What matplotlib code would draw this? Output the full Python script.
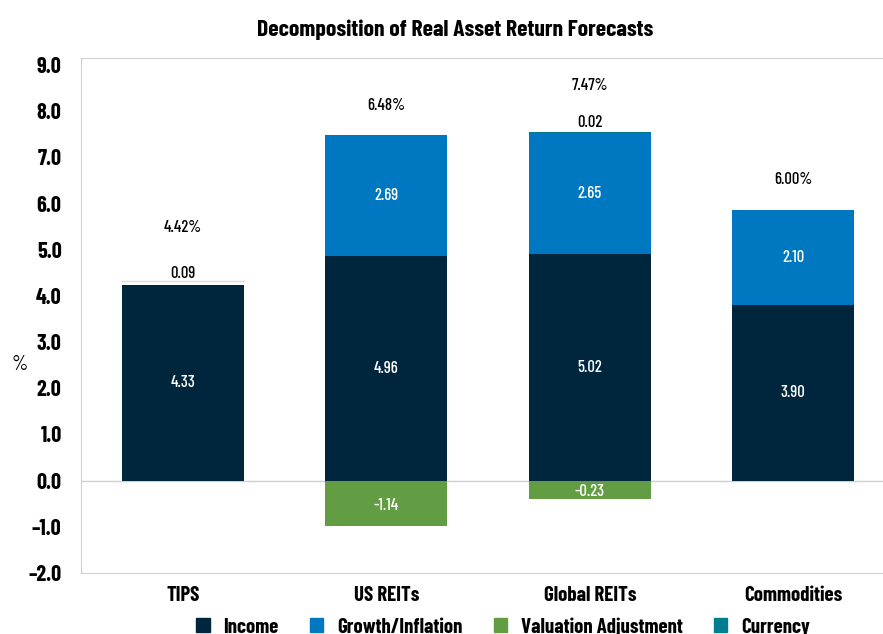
import numpy as np
import matplotlib
matplotlib.use("Agg")
import matplotlib.pyplot as plt
from matplotlib.patches import Patch

plt.rcParams['font.family'] = ['Barlow Condensed', 'Roboto Condensed', 'DejaVu Sans']

# Donnees
categories = ["TIPS", "US REITs", "Global REITs", "Commodities"]
# hauteurs des barres telles que dessinees
income = [4.24, 4.86, 4.90, 3.81]
growth = [0.08, 2.62, 2.63, 2.06]
valuation = [0.0, -0.99, -0.39, 0.0]
currency = [0.0, 0.0, 0.02, 0.0]
# textes affiches
income_lbl = ["4.33", "4.96", "5.02", "3.90"]
growth_lbl = ["0.09", "2.69", "2.65", "2.10"]
valuation_lbl = ["", "-1.14", "-0.23", ""]
currency_lbl = ["", "", "0.02", ""]
total_lbl = ["4.42%", "6.48%", "7.47%", "6.00%"]

c_income = "#00263e"
c_growth = "#0078c1"
c_valuation = "#629c43"
c_currency = "#007d91"

fig = plt.figure(figsize=(8.83, 6.34), dpi=100)
ax = fig.add_axes([0.0917, 0.0962, 0.922, 0.8123])

x = np.arange(len(categories))
w = 0.6
inc = np.array(income)
gro = np.array(growth)
val = np.array(valuation)
cur = np.array(currency)

ax.bar(x, inc, w, color=c_income, zorder=2)
# TIPS : petit segment presque invisible (trait gris clair)
gcol = ["white" if g < 0.1 else c_growth for g in gro]
ax.bar(x, gro, w, bottom=inc, color=gcol, zorder=2)
for i in range(len(x)):
    if gro[i] < 0.1:
        ax.plot([x[i] - w / 2, x[i] + w / 2], [inc[i] + gro[i], inc[i] + gro[i]],
                color="#dcdcdc", lw=1, zorder=3)
ax.bar(x, val, w, color=c_valuation, zorder=2)
ax.bar(x, cur, w, bottom=inc + gro, color=c_currency, zorder=2)

ax.axhline(0, color="#d0d0d0", lw=1, zorder=1)

# etiquettes
fs = 12
for i in range(len(x)):
    ax.text(x[i], inc[i] / 2, income_lbl[i], ha="center", va="center",
            color="white", fontsize=fs, fontweight="medium")
    top = inc[i] + gro[i] + cur[i]
    extra = 0.65
    if gro[i] < 0.1:
        ax.text(x[i], top + 0.17, growth_lbl[i], ha="center", va="center",
                color="black", fontsize=fs, fontweight="medium")
        extra = 1.15
    else:
        ax.text(x[i], inc[i] + gro[i] / 2, growth_lbl[i], ha="center", va="center",
                color="white", fontsize=fs, fontweight="medium")
    if currency_lbl[i]:
        ax.text(x[i], top + 0.2, currency_lbl[i], ha="center", va="center",
                color="black", fontsize=fs, fontweight="medium")
        extra = 1.0
    if valuation_lbl[i]:
        ax.text(x[i], val[i] / 2 - 0.05, valuation_lbl[i], ha="center", va="center",
                color="white", fontsize=fs, fontweight="medium")
    ax.text(x[i], top + extra, total_lbl[i], ha="center", va="center",
            color="black", fontsize=fs, fontweight="medium")

ax.set_xlim(-0.5, 3.5)
ax.set_ylim(-2.0, 9.15)
ax.set_yticks(np.arange(-2, 10, 1))
ax.set_yticklabels(["%.1f" % v if v >= 0 else "\u2013%.1f" % abs(v) for v in np.arange(-2, 10, 1)],
                   fontsize=16, fontweight="bold")
ax.set_xticks(x)
ax.set_xticklabels(categories, fontsize=15, fontweight="bold")
ax.tick_params(axis="y", length=0, pad=14)
ax.tick_params(axis="x", length=0, pad=9)
for s in ["left", "top", "bottom", "right"]:
    ax.spines[s].set_color("#d0d0d0")
fig.text(20 / 883, 1 - 365 / 634, "%", ha="center", va="center", fontsize=15)

fig.text(455 / 883, 1 - 30 / 634, "Decomposition of Real Asset Return Forecasts",
         ha="center", va="center", fontsize=17, fontweight="bold")

handles = [Patch(color=c_income), Patch(color=c_growth),
           Patch(color=c_valuation), Patch(color=c_currency)]
fig.legend(handles, ["Income", "Growth/Inflation", "Valuation Adjustment", "Currency"],
           loc="center", bbox_to_anchor=(503 / 883, 1 - 627 / 634), ncol=4,
           frameon=False, handlelength=0.65, handleheight=0.65, handletextpad=0.65,
           columnspacing=1.5, prop={"weight": "bold", "size": 15})

fig.savefig("out.png", dpi=100)
